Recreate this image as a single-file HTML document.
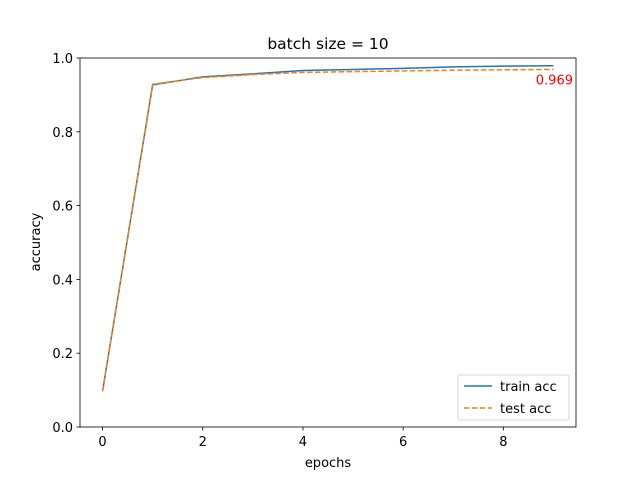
<!DOCTYPE html>
<html><head><meta charset="utf-8"><style>body{margin:0;background:#fff}svg{font-family:"DejaVu Sans","Liberation Sans",sans-serif}</style></head>
<body>
<svg id="c" width="640" height="480">
<rect width="640" height="480" fill="#fff"/>
<g id="g"></g>
</svg>
<script>
const epochs=[0,1,2,3,4,5,6,7,8,9];
const trainAcc=[0.097,0.927,0.949,0.957,0.966,0.969,0.972,0.976,0.978,0.979];
const testAcc=[0.097,0.929,0.947,0.955,0.961,0.963,0.965,0.967,0.968,0.969];
const xTicks=[0,2,4,6,8];
const yTicks=[0,0.2,0.4,0.6,0.8,1.0];
const finalLabel="0.969";
const L=80,R=576,T=58,B=427;
const xmin=-0.45,xmax=9.45;
const X=v=>L+(v-xmin)/(xmax-xmin)*(R-L);
const Y=v=>B-v*(B-T);
const NS="http://www.w3.org/2000/svg";
const g=document.getElementById('g');
function mk(t,a,txt){const e=document.createElementNS(NS,t);for(const k in a)e.setAttribute(k,a[k]);if(txt!==undefined)e.textContent=txt;g.appendChild(e);return e;}
function line(d,color,dash,name){
 const p=mk('polyline',{points:epochs.map((x,i)=>X(x)+','+Y(d[i])).join(' '),fill:'none',stroke:color,'stroke-width':1.5,'stroke-dasharray':dash});
 
 
}
line(trainAcc,'#1f77b4','none','train-acc-line');
line(testAcc,'#ff7f0e','5.5,2.4','test-acc-line');
const fr=mk('rect',{x:L,y:T,width:R-L,height:B-T,fill:'none',stroke:'#000','stroke-width':0.8});


xTicks.forEach(t=>{mk('line',{x1:X(t),x2:X(t),y1:B,y2:B+3.5,stroke:'#000','stroke-width':0.8});
 const e=mk('text',{x:X(t),y:B+19,'text-anchor':'middle','font-size':13},t);
 
 });
yTicks.forEach(t=>{mk('line',{x1:L-3.5,x2:L,y1:Y(t),y2:Y(t),stroke:'#000','stroke-width':0.8});
 const e=mk('text',{x:L-7,y:Y(t)+5,'text-anchor':'end','font-size':13},t.toFixed(1));
 
 });
const fl=mk('text',{x:573,y:Y(testAcc[9])+15,'text-anchor':'end','font-size':13,fill:'red'},finalLabel);


const ti=mk('text',{x:328,y:49,'text-anchor':'middle','font-size':15.5},'batch size = 10');


const xl=mk('text',{x:328,y:467,'text-anchor':'middle','font-size':13},'epochs');


const yl=mk('text',{x:0,y:0,'text-anchor':'middle','font-size':13,transform:'translate(40,242) rotate(-90)'},'accuracy');


const lg=mk('rect',{x:458,y:375,width:111,height:45,rx:2,fill:'#fff',stroke:'#ccc','stroke-width':0.8});


mk('line',{x1:464,x2:492,y1:386,y2:386,stroke:'#1f77b4','stroke-width':1.5});
const l1=mk('text',{x:500,y:391,'font-size':13},'train acc');


mk('line',{x1:464,x2:492,y1:408,y2:408,stroke:'#ff7f0e','stroke-width':1.5,'stroke-dasharray':'5.5,2.4'});
const l2=mk('text',{x:500,y:413,'font-size':13},'test acc');


</script>
</body></html>
